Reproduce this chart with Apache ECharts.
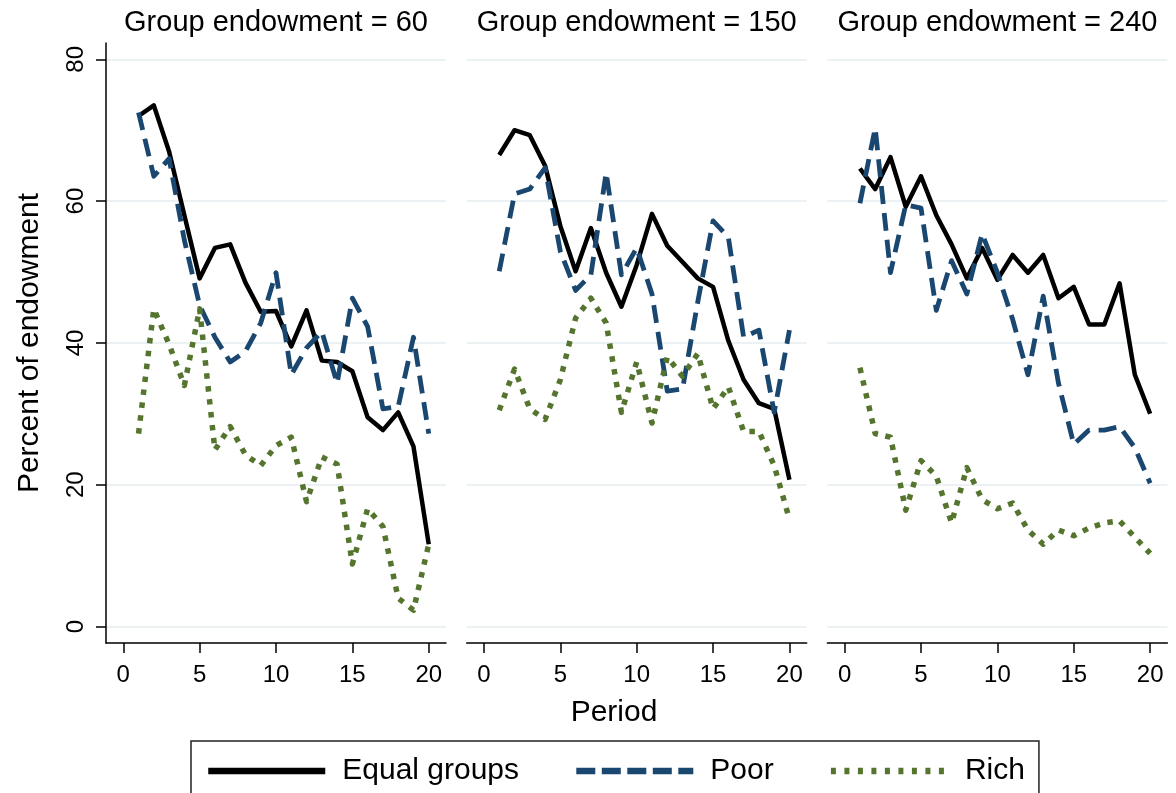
<!DOCTYPE html>
<html>
<head>
<meta charset="utf-8">
<script src="https://cdn.jsdelivr.net/npm/echarts@6/dist/echarts.min.js"></script>
<style>
html,body{margin:0;padding:0;background:#fff;}
#chart{width:1176px;height:793px;}
</style>
</head>
<body>
<div id="chart"></div>
<script>
// ---- data ----
const periods = [1,2,3,4,5,6,7,8,9,10,11,12,13,14,15,16,17,18,19,20];
const panelTitles = ["Group endowment = 60", "Group endowment = 150", "Group endowment = 240"];
const seriesNames = ["Equal groups", "Poor", "Rich"];
const xTicks = [0,5,10,15,20];
const yTicks = [0,20,40,60,80];

const equal60  = [72.0,73.5,67.0,58.0,49.1,53.4,53.9,48.5,44.4,44.5,39.5,44.6,37.5,37.3,36.0,29.5,27.7,30.2,25.4,11.6];
const poor60   = [72.5,63.5,66.0,54.5,45.3,40.8,37.3,38.8,42.8,49.9,35.5,39.3,41.6,34.3,46.3,42.3,30.7,31.0,40.8,27.2];
const rich60   = [27.2,44.8,39.8,34.0,44.8,24.9,28.2,24.2,22.7,25.5,26.7,17.6,23.9,22.9,8.8,16.6,14.1,4.0,2.3,11.6];

const equal150 = [66.5,70.0,69.3,65.0,56.5,50.1,56.2,49.9,45.1,51.0,58.2,53.7,51.4,49.1,47.9,40.3,34.8,31.5,30.7,20.7];
const poor150  = [50.1,61.0,61.7,64.7,52.9,47.4,49.6,64.0,49.6,53.4,46.9,33.2,33.5,45.8,57.2,54.9,40.8,41.8,30.2,41.8];
const rich150  = [30.5,36.3,30.7,29.2,34.8,43.5,46.3,42.8,30.2,37.3,28.7,38.0,35.3,38.5,30.7,33.8,27.5,27.5,22.7,15.1];

const equal240 = [64.6,61.7,66.2,59.2,63.5,58.0,53.9,49.1,53.4,48.9,52.4,49.9,52.4,46.3,47.9,42.6,42.6,48.4,35.5,30.0];
const poor240  = [59.7,70.3,49.9,59.5,59.0,44.6,51.6,46.9,55.4,49.9,43.3,35.5,46.6,34.3,25.7,27.7,27.7,28.2,25.2,20.2];
const rich240  = [36.5,27.2,26.7,16.4,23.4,21.2,14.6,22.4,17.9,16.6,17.4,13.6,11.6,13.6,12.8,13.9,14.6,14.9,12.6,10.3];

const panels = [
  [equal60, poor60, rich60],
  [equal150, poor150, rich150],
  [equal240, poor240, rich240]
];

// ---- styles ----
const FONT = "'Liberation Sans', Arial, sans-serif";
const colors = ["#000000", "#1a476f", "#55752f"];
const widths = [4.5, 4.8, 5.5];
const dashes = ["solid", [18, 9], [5.5, 7.5]];
const legendDashes = ["solid", [19, 6.5], [5, 8.5]];

const chart = echarts.init(document.getElementById('chart'), null, {renderer: 'canvas'});

const grids = [], xAxes = [], yAxes = [], series = [], graphics = [];
for (let i = 0; i < 3; i++) {
  const left = 106 + 360.7 * i;
  grids.push({left: left, top: 43, width: 340, height: 600, containLabel: false});
  xAxes.push({
    type: 'value', gridIndex: i, min: -1.13, max: 21.13,
    axisLine: {show: true, onZero: false, lineStyle: {color: '#000', width: 1.5}},
    axisTick: {show: true, length: 10, customValues: xTicks, lineStyle: {color: '#000', width: 1.5}},
    axisLabel: {show: true, customValues: xTicks, fontSize: 24, color: '#000', margin: 20, fontFamily: FONT},
    splitLine: {show: false}
  });
  yAxes.push({
    type: 'value', gridIndex: i, min: -2.33, max: 82.3,
    axisLine: {show: i === 0, onZero: false, lineStyle: {color: '#000', width: 1.5}},
    axisTick: {show: i === 0, length: 10, customValues: yTicks, lineStyle: {color: '#000', width: 1.5}},
    axisLabel: {show: i === 0, customValues: yTicks, rotate: 90, fontSize: 24, color: '#000', margin: 18, fontFamily: FONT},
    splitLine: {show: true, lineStyle: {color: '#e6eef1', width: 1.5}}
  });
  for (let s = 0; s < 3; s++) {
    series.push({
      type: 'line', name: seriesNames[s], xAxisIndex: i, yAxisIndex: i,
      data: periods.map((p, k) => [p, panels[i][s][k]]),
      symbol: 'none', showSymbol: false, silent: true, animation: false,
      lineStyle: {color: colors[s], width: widths[s], type: dashes[s], cap: 'butt', join: 'round'},
      itemStyle: {color: colors[s]},
      z: 2 + s
    });
  }
  graphics.push({
    type: 'text', x: left + 170, y: 23,
    style: {text: panelTitles[i], fontSize: 29, fontFamily: FONT, fill: '#000', textAlign: 'center', textVerticalAlign: 'middle'}
  });
}

graphics.push({
  type: 'text', x: 614, y: 713,
  style: {text: 'Period', fontSize: 30, fontFamily: FONT, fill: '#000', textAlign: 'center', textVerticalAlign: 'middle'}
});
graphics.push({
  type: 'text', x: 30, y: 343, rotation: Math.PI / 2,
  style: {text: 'Percent of endowment', fontSize: 30, fontFamily: FONT, fill: '#000', textAlign: 'center', textVerticalAlign: 'middle'}
});

chart.setOption({
  animation: false,
  backgroundColor: '#ffffff',
  grid: grids,
  xAxis: xAxes,
  yAxis: yAxes,
  series: series,
  graphic: graphics,
  legend: {
    left: 191, top: 741,
    orient: 'horizontal',
    padding: [15, 14, 15, 14],
    borderColor: '#222', borderWidth: 1.5,
    itemWidth: 117, itemHeight: 14, itemGap: 54,
    selectedMode: false,
    textStyle: {fontSize: 30, fontFamily: FONT, color: '#000', padding: [0, 0, 0, 12]},
    itemStyle: {opacity: 0},
    data: seriesNames.map((n, s) => ({
      name: n,
      itemStyle: {opacity: 0},
      lineStyle: {color: colors[s], width: 6.5, type: legendDashes[s], cap: 'butt'}
    }))
  }
});
</script>
</body>
</html>
